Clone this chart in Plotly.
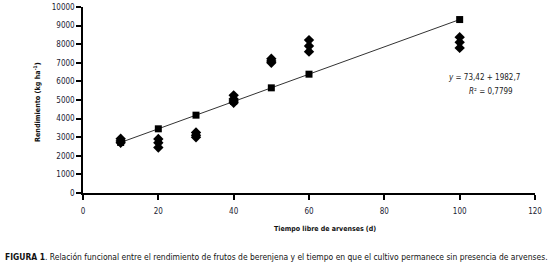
import plotly.graph_objects as go

# Observed yields (diamonds)
obs_x = [10, 10, 10, 20, 20, 20, 30, 30, 30, 40, 40, 40, 40, 50, 50, 50, 60, 60, 60, 100, 100, 100]
obs_y = [2700, 2800, 2920, 2450, 2700, 2900, 3000, 3100, 3250, 4850, 4950, 5050, 5250,
         7000, 7100, 7220, 7600, 7900, 8220, 7800, 8100, 8380]
# Fitted values (squares) on the regression line
fit_x = [10, 20, 30, 40, 50, 60, 100]
fit_y = [2717, 3451, 4185, 4919, 5654, 6388, 9325]

xticks = [0, 20, 40, 60, 80, 100, 120]
yticks = [0, 1000, 2000, 3000, 4000, 5000, 6000, 7000, 8000, 9000, 10000]
ytick_text = [str(v) for v in yticks]

FONT = "DejaVu Sans Condensed, Liberation Sans Narrow, Arial Narrow, sans-serif"

fig = go.Figure()
fig.add_trace(go.Scatter(x=fit_x, y=fit_y, mode="lines+markers",
                         line=dict(color="#333333", width=1),
                         marker=dict(symbol="square", size=7, color="black"),
                         showlegend=False, cliponaxis=False))
fig.add_trace(go.Scatter(x=obs_x, y=obs_y, mode="markers",
                         marker=dict(symbol="diamond", size=8, color="black"),
                         showlegend=False, cliponaxis=False))

axis_common = dict(showgrid=False, zeroline=False, showline=True, linecolor="black",
                   linewidth=1.5, ticks="outside", ticklen=5, tickcolor="black",
                   tickwidth=1.5, automargin=False,
                   tickfont=dict(family=FONT, size=8, color="#222233"))

fig.update_layout(
    width=553, height=263,
    margin=dict(l=83, r=18, t=7, b=70),
    paper_bgcolor="white", plot_bgcolor="white",
    font=dict(family=FONT, size=8, color="#222222"),
    xaxis=dict(range=[0, 120], tickvals=xticks, ticklabelstandoff=5, **axis_common),
    yaxis=dict(range=[0, 10000], tickvals=yticks, ticktext=ytick_text, **axis_common),
    annotations=[
        dict(x=325, y=229, xref="paper", yref="paper", text="<b>Tiempo libre de arvenses (d)</b>",
             showarrow=False, font=dict(size=7, family=FONT, color="#111111")),
        dict(x=106.4, y=6200, xref="x", yref="y", text="<i>y</i> = 73,42 + 1982,7",
             showarrow=False, xanchor="center", font=dict(size=8, family=FONT)),
        dict(x=108.2, y=5450, xref="x", yref="y", text="<i>R</i>² = 0,7799",
             showarrow=False, xanchor="center", font=dict(size=8, family=FONT)),
        dict(x=0, y=0, xref="paper", yref="paper", text="<b>Rendimiento (kg ha<sup>-1</sup>)</b>",
             showarrow=False, textangle=-90, font=dict(size=7.2, family=FONT, color="#111111")),
        dict(x=0, y=0, xref="paper", yref="paper",
             text="<b>FIGURA 1</b>. Relación funcional entre el rendimiento de frutos de berenjena y el tiempo en que el cultivo permanece sin presencia de arvenses.",
             showarrow=False, font=dict(size=8.45, family=FONT, color="#111111")),
    ],
)
# position helper annotations in pixel terms relative to plot area (plot: x 83..535, y 7..193)
anns = fig.layout.annotations
anns[0].update(x=0.5, y=0, xshift=325 - 309, yshift=-(229 - 193), yanchor="middle")
anns[3].update(x=0, y=0.5, xshift=-(83 - 37), yshift=-(102 - 100), xanchor="center", yanchor="middle")
anns[4].update(x=0, y=0, xanchor="left", yanchor="middle", xshift=-80, yshift=-(257 - 193))
fig.write_html("out.html", config={"displayModeBar": False},
               post_script="document.body.style.margin='0';")
